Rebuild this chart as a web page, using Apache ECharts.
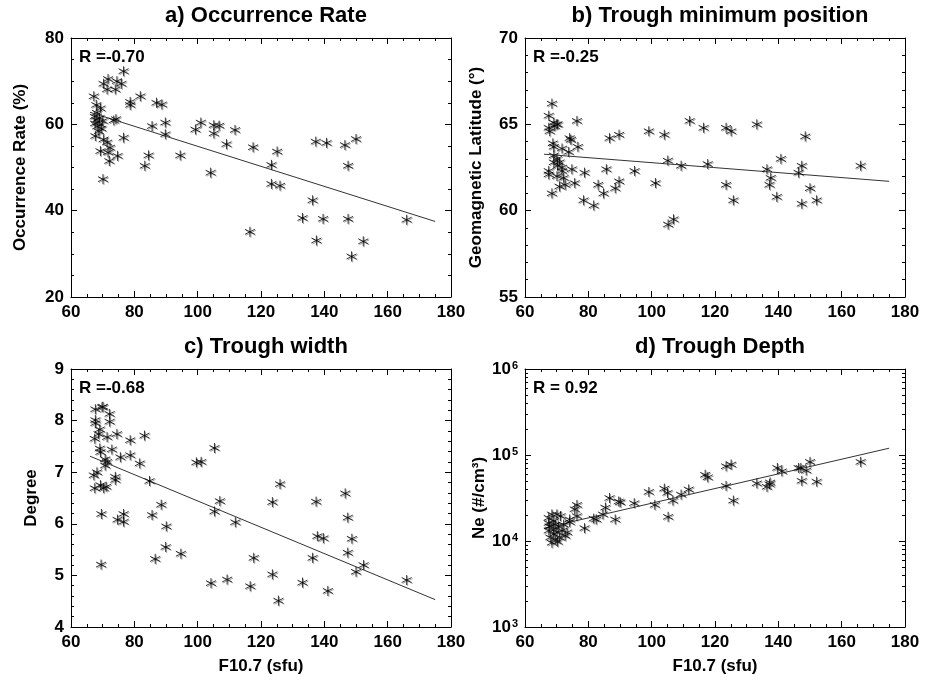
<!DOCTYPE html>
<html>
<head>
<meta charset="utf-8">
<title>Trough parameters vs F10.7</title>
<script src="https://cdn.jsdelivr.net/npm/echarts@6.0.0/dist/echarts.min.js"></script>
<style>
html, body { margin: 0; padding: 0; background: #fff; }
#chart { width: 932px; height: 683px; }
</style>
</head>
<body>
<div id="chart"></div>
<script>
// values (x = F10.7 in sfu)
var rateX = [76.6, 71.7, 70.3, 74.5, 75.9, 71.4, 74.0, 67.2, 81.9, 78.7, 78.7, 87.0, 88.7, 68.0, 69.3, 68.2,
             67.5, 68.0, 68.6, 69.2, 68.3, 69.6, 68.8, 70.0, 67.6, 69.0,
             73.5, 74.2, 85.6, 89.8, 89.8, 99.3, 101.0,
             67.7, 70.3, 71.4, 72.3, 69.3, 71.7, 76.6, 74.7, 84.5, 72.1, 83.3, 94.5, 70.1,
             105.1, 106.8, 105.1, 111.8, 109.1, 117.5, 125.1, 123.3, 123.3, 126.0, 104.1, 116.5, 136.3, 133.1,
             139.6, 147.5, 137.5, 152.3, 148.6, 137.3, 140.7, 146.5, 150.0, 147.5, 166.0];
var rateY = [72.3, 70.5, 69.4, 70.0, 69.4, 68.1, 68.1, 66.5, 66.5, 65.2, 64.5, 65.0, 64.6, 64.5, 63.7, 62.7,
             61.8, 61.0, 60.4, 60.0, 59.5, 59.0, 58.4, 60.8, 60.2, 61.5,
             60.9, 61.2, 59.6, 60.4, 57.7, 58.8, 60.4,
             57.3, 56.5, 55.8, 54.6, 53.8, 53.5, 56.9, 52.7, 52.8, 51.5, 50.4, 52.8, 47.3,
             59.8, 59.7, 57.9, 58.7, 55.4, 54.7, 53.7, 50.6, 46.2, 45.8, 48.8, 35.1, 42.4, 38.3,
             38.1, 38.1, 33.1, 32.9, 29.4, 56.0, 55.7, 55.2, 56.6, 50.4, 37.9];

var latX = [68.5, 67.5, 67.5, 67.8, 69.1, 69.9, 69.4, 70.3, 76.4, 74.1, 74.5, 68.8, 69.1, 71.7, 76.7, 73.8, 69.1, 70.1,
            69.1, 70.9, 70.3, 71.7, 67.5, 67.5, 74.8, 71.7, 70.1, 72.2, 78.8, 75.7, 72.7, 70.9, 68.5, 78.5, 81.7,
            83.1, 84.8, 85.7, 86.7, 89.7, 89.7, 88.5, 94.6, 99.1, 104.0, 101.2, 105.1, 109.3, 112.0, 116.4, 117.7,
            105.2, 106.9,
            123.5, 125.1, 133.2, 148.5, 123.5, 125.8, 136.4, 140.8, 137.6, 137.2, 139.5, 147.4, 146.4, 150.0,
            147.4, 152.1, 166.0];
var latY = [66.2, 65.5, 64.8, 64.6, 65.1, 65.0, 64.9, 65.0, 65.2, 64.2, 64.1, 63.9, 63.7, 63.6, 63.7, 63.4, 63.2, 63.0,
            62.8, 62.8, 62.6, 62.5, 62.3, 62.1, 62.4, 62.3, 62.0, 61.9, 62.2, 61.6, 61.5, 61.4, 61.0, 60.6, 60.3,
            61.5, 61.0, 62.4, 64.2, 64.4, 61.7, 61.3, 62.3, 64.6, 64.4, 61.6, 62.9, 62.6, 65.2, 64.8, 62.7,
            59.2, 59.5,
            64.8, 64.6, 65.0, 64.3, 61.5, 60.6, 62.4, 63.0, 61.9, 61.5, 60.8, 62.6, 62.2, 61.3,
            60.4, 60.6, 62.6];

var widthX = [67.7, 70.1, 69.8, 72.2, 67.7, 67.7, 72.2, 69.1, 68.7, 67.5, 71.4, 74.5, 78.7, 83.2, 69.1, 69.3, 72.9,
              75.6, 78.7, 70.8, 71.4, 70.8, 81.7, 68.2, 67.2, 74.0, 74.0, 67.5, 69.3, 70.3, 71.1, 84.8, 69.6, 74.7,
              76.6, 76.6, 85.6, 88.5, 90.1, 89.9, 86.6, 94.7, 69.5, 99.6, 101.1, 105.3, 107.0, 105.3, 111.9, 104.2,
              109.3, 116.6, 117.7,
              126.0, 123.6, 137.4, 146.6, 147.4, 137.8, 139.7, 148.7, 136.3, 147.4, 152.4, 150.0, 123.6, 133.1,
              141.1, 125.5, 166.0];
var widthY = [8.22, 8.27, 8.26, 8.13, 8.01, 7.95, 7.98, 7.83, 7.74, 7.65, 7.68, 7.74, 7.62, 7.71, 7.46, 7.39, 7.44,
              7.29, 7.33, 7.25, 7.20, 7.13, 7.17, 7.00, 6.94, 6.91, 6.85, 6.69, 6.75, 6.69, 6.72, 6.83, 6.19, 6.08,
              6.19, 6.04, 6.17, 6.37, 5.95, 5.55, 5.32, 5.42, 5.21, 7.19, 7.20, 7.47, 6.44, 6.24, 6.03, 4.85,
              4.92, 4.79, 5.34,
              6.77, 6.42, 6.43, 6.59, 6.12, 5.76, 5.72, 5.71, 5.34, 5.44, 5.20, 5.07, 5.02, 4.86,
              4.70, 4.51, 4.91];

var depthX = [116.9, 117.7, 111.7, 109.3, 104.0, 105.0, 106.7, 99.1, 101.0, 105.2, 94.5, 86.7, 89.6, 90.1, 85.4,
              84.6, 82.5, 81.7, 88.5, 78.8, 76.4, 75.7, 74.1, 74.1, 76.4,
              67.5, 68.5, 70.1, 71.2, 67.5, 69.1, 68.2, 69.6, 70.6, 72.2, 67.5, 69.1, 70.1, 71.7, 73.3, 68.0,
              69.6, 70.9, 72.7, 68.5, 70.3, 69.1, 67.8,
              123.5, 125.1, 123.5, 125.8, 133.2, 136.4, 137.4, 137.2, 139.7, 141.1, 146.4, 147.1, 148.8, 150.0,
              147.4, 152.1, 166.0];
var depthY = [58900, 55000, 39800, 34700, 40700, 36300, 29500, 37200, 26300, 19100, 27500, 31600, 28800, 28200, 24500,
              20400, 17800, 18200, 17800, 14100, 26300, 23400, 17800, 16600, 19500,
              18600, 20400, 20400, 19500, 16200, 17000, 14800, 15500, 14800, 15500, 13200, 13500, 12600, 13200, 12600, 11000,
              10500, 11000, 11500, 9550, 9800, 12000, 14800,
              74100, 77600, 43700, 29500, 46800, 42700, 47900, 45700, 70800, 64600, 70800, 70800, 66100, 83200,
              50100, 49000, 83200];

// linear fits, drawn between the two x ends
var fitX = [66, 175];
var rateFit = [62.8, 37.5];
var latFit = [63.27, 61.7];
var widthFit = [7.31, 4.53];
var depthFit = [14100, 120000];

var titles = ['a) Occurrence Rate', 'b) Trough minimum position', 'c) Trough width', 'd) Trough Depth'];
var rLabels = ['R =-0.70', 'R =-0.25', 'R =-0.68', 'R = 0.92'];
var yNames = ['Occurrence Rate (%)', 'Geomagnetic Latitude (\u00b0)', 'Degree', 'Ne (#/cm\u00b3)'];
var xName = 'F10.7 (sfu)';
var neMinorTicks = [2e3, 3e3, 4e3, 5e3, 6e3, 7e3, 8e3, 9e3, 2e4, 3e4, 4e4, 5e4, 6e4, 7e4, 8e4, 9e4,
                    2e5, 3e5, 4e5, 5e5, 6e5, 7e5, 8e5, 9e5];

var FONT = '"Liberation Sans", Arial, Helvetica, sans-serif';
var STAR = 'path://M5,0L5,10M0.7,2.5L9.3,7.5M0.7,7.5L9.3,2.5';

var grids = [
    {left: 71, top: 38, width: 380, height: 259},
    {left: 525, top: 38, width: 380, height: 259},
    {left: 71, top: 369, width: 380, height: 258},
    {left: 525, top: 369, width: 380, height: 258}
];

function pairs(xs, ys) {
    var out = [];
    for (var i = 0; i < xs.length; i++) {
        out.push([xs[i], ys[i]]);
    }
    return out;
}

// one axis of the box; labelled or just ticks on the opposite side
function boxAxis(gi, pos, opt) {
    var labelled = (pos === 'bottom' || pos === 'left');
    var ax = {
        gridIndex: gi,
        position: pos,
        type: opt.type || 'value',
        min: opt.min,
        max: opt.max,
        interval: opt.interval,
        axisLine: {show: true, onZero: false, lineStyle: {color: '#000', width: 1}},
        axisTick: {show: true, inside: true, length: 6, lineStyle: {color: '#000', width: 1}},
        minorTick: {show: !!opt.minor, splitNumber: opt.minor || 5, length: 3, lineStyle: {color: '#000', width: 1}},
        splitLine: {show: false},
        axisLabel: {
            show: labelled,
            color: '#000',
            fontFamily: FONT,
            fontWeight: 'bold',
            fontSize: 17,
            margin: 7
        }
    };
    if (opt.logBase) ax.logBase = opt.logBase;
    if (opt.formatter) {
        ax.axisLabel.formatter = opt.formatter;
        ax.axisLabel.rich = opt.rich;
    }
    if (labelled && opt.name) {
        ax.name = opt.name;
        ax.nameLocation = 'middle';
        ax.nameGap = opt.nameGap;
        ax.nameTextStyle = {color: '#000', fontFamily: FONT, fontWeight: 'bold', fontSize: 17};
    }
    return ax;
}

var xAxes = [];
var yAxes = [];
var xRange = {min: 60, max: 180, interval: 20, minor: 4};
for (var g = 0; g < 4; g++) {
    var xb = Object.assign({}, xRange);
    if (g >= 2) { xb.name = xName; xb.nameGap = 31; }
    xAxes.push(boxAxis(g, 'bottom', xb));
    xAxes.push(boxAxis(g, 'top', xRange));
}

var yRanges = [
    {min: 20, max: 80, interval: 20, minor: 4, name: yNames[0], nameGap: 42},
    {min: 55, max: 70, interval: 5, minor: 5, name: yNames[1], nameGap: 40},
    {min: 4, max: 9, interval: 1, minor: 5, name: yNames[2], nameGap: 31},
    {type: 'log', logBase: 10, min: 1000, max: 1000000, name: yNames[3], nameGap: 36,
     formatter: function (v) { return '10{s|' + Math.round(Math.log10(v)) + '}'; },
     rich: {s: {fontSize: 11, fontWeight: 'bold', fontFamily: FONT, color: '#000', verticalAlign: 'top', padding: [0, 0, 6, 1]}}}
];
for (var k = 0; k < 4; k++) {
    yAxes.push(boxAxis(k, 'left', yRanges[k]));
    yAxes.push(boxAxis(k, 'right', yRanges[k]));
}
// log minor ticks for the Ne panel (2..9 x 10^n), on an unseen axis in log10 units
function neMinorAxis(pos) {
    return {
        gridIndex: 3, position: pos, type: 'value', min: 3, max: 6,
        axisLine: {show: false},
        axisLabel: {show: false},
        splitLine: {show: false},
        axisTick: {
            show: true, inside: true, length: 3, lineStyle: {color: '#000', width: 1},
            customValues: neMinorTicks.map(function (v) { return Math.log10(v); })
        }
    };
}
yAxes.push(neMinorAxis('left'));
yAxes.push(neMinorAxis('right'));

var panelData = [
    pairs(rateX, rateY), pairs(latX, latY), pairs(widthX, widthY), pairs(depthX, depthY)
];
var panelFits = [rateFit, latFit, widthFit, depthFit];

var series = [];
for (var p = 0; p < 4; p++) {
    series.push({
        type: 'line',
        xAxisIndex: p * 2,
        yAxisIndex: p * 2,
        data: pairs(fitX, panelFits[p]),
        showSymbol: false,
        symbol: 'none',
        lineStyle: {color: '#333', width: 1},
        silent: true,
        z: 2
    });
    series.push({
        type: 'scatter',
        xAxisIndex: p * 2,
        yAxisIndex: p * 2,
        data: panelData[p],
        symbol: STAR,
        symbolSize: 10,
        itemStyle: {
            color: 'rgba(0,0,0,0)',
            borderColor: '#000',
            borderWidth: 1,
            shadowColor: 'rgba(110,110,110,0.8)',
            shadowOffsetX: 1,
            shadowOffsetY: 1,
            shadowBlur: 0
        },
        silent: true,
        z: 3
    });
}

var titleList = [];
var graphics = [];
for (var t = 0; t < 4; t++) {
    titleList.push({
        text: titles[t],
        left: grids[t].left + grids[t].width / 2,
        top: grids[t].top - 38,
        textAlign: 'center',
        textStyle: {color: '#000', fontFamily: FONT, fontWeight: 'bold', fontSize: 22}
    });
    graphics.push({
        type: 'text',
        left: grids[t].left + 8,
        top: grids[t].top + 11,
        style: {text: rLabels[t], fill: '#000', font: 'bold 17px ' + FONT},
        z: 10
    });
}

var chart = echarts.init(document.getElementById('chart'));
chart.setOption({
    animation: false,
    backgroundColor: '#fff',
    title: titleList,
    grid: grids,
    xAxis: xAxes,
    yAxis: yAxes,
    graphic: graphics,
    series: series
});
</script>
</body>
</html>
